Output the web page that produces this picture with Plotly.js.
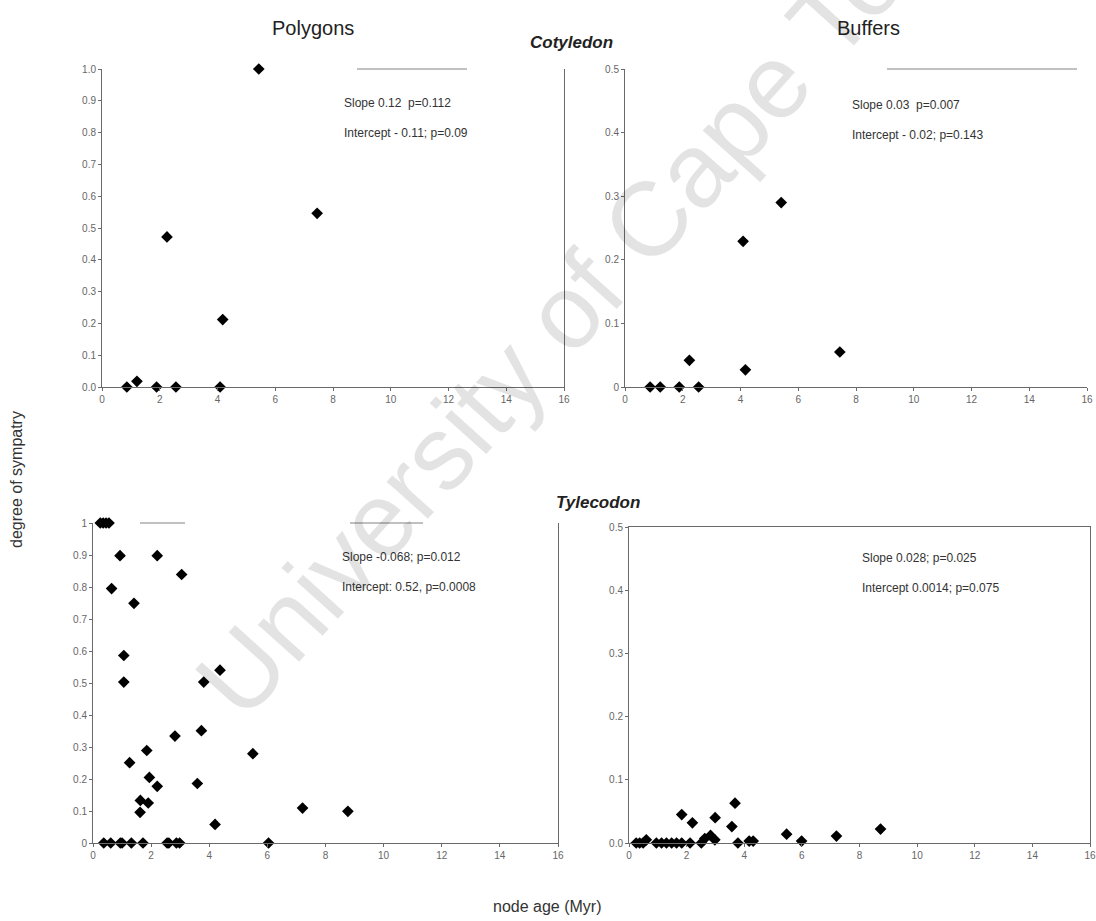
<!DOCTYPE html>
<html>
<head>
<meta charset="utf-8">
<script src="https://cdn.plot.ly/plotly-3.0.1.min.js"></script>
<style>
  html, body { margin: 0; padding: 0; background: #fff; }
  #chart { width: 1096px; height: 921px; }
</style>
</head>
<body>
<div id="chart"></div>
<script>
// Node age (Myr) vs. degree of sympatry
// Cotyledon — polygons
const cotPolyAge = [0.86, 1.21, 1.89, 2.56, 4.09, 2.25, 4.18, 5.43, 7.45];
const cotPolySym = [0, 0.018, 0, 0, 0, 0.472, 0.212, 1.0, 0.546];

// Cotyledon — buffers
const cotBufAge = [0.87, 1.22, 1.88, 2.55, 2.23, 4.09, 4.17, 5.41, 7.44];
const cotBufSym = [0, 0, 0, 0, 0.042, 0.229, 0.027, 0.290, 0.055];

// Tylecodon — polygons
const tylPolyAge = [0.25, 0.35, 0.45, 0.55, 0.93, 2.21, 3.05, 0.64, 1.41, 1.06, 1.06, 3.81, 4.37,
  3.73, 2.82, 1.85, 1.26, 5.50, 1.94, 2.21, 3.59, 1.63, 1.90, 1.62, 7.21, 8.77, 4.20,
  0.37, 0.61, 0.94, 1.00, 1.32, 1.72, 2.55, 2.61, 2.87, 2.98, 6.04];
const tylPolySym = [1, 1, 1, 1, 0.898, 0.898, 0.839, 0.795, 0.749, 0.586, 0.503, 0.503, 0.540,
  0.351, 0.334, 0.289, 0.251, 0.279, 0.205, 0.177, 0.186, 0.133, 0.125, 0.096, 0.109, 0.099, 0.058,
  0, 0, 0, 0, 0, 0, 0, 0, 0, 0, 0];

// Tylecodon — buffers
const tylBufAge = [1.83, 2.20, 2.99, 3.57, 3.68, 5.47, 5.99, 7.20, 8.73, 3.78, 4.17, 4.31,
  2.63, 2.83, 2.98, 2.51, 0.25, 0.37, 0.49, 0.60, 0.95, 1.13, 1.30, 1.48, 1.65, 1.83, 2.12];
const tylBufSym = [0.045, 0.032, 0.040, 0.026, 0.063, 0.014, 0.003, 0.011, 0.022, 0, 0.003, 0.003,
  0.007, 0.012, 0.005, 0, 0, 0, 0, 0.005, 0, 0, 0, 0, 0, 0, 0];

// Regression summaries
const statsText = [
  ["Slope 0.12  p=0.112", "Intercept - 0.11; p=0.09"],
  ["Slope 0.03  p=0.007", "Intercept - 0.02; p=0.143"],
  ["Slope -0.068; p=0.012", "Intercept: 0.52, p=0.0008"],
  ["Slope 0.028; p=0.025", "Intercept 0.0014; p=0.075"]
];

const xTicks = [0, 2, 4, 6, 8, 10, 12, 14, 16];

const FONT = "Liberation Sans, Arial, sans-serif";
const AXIS_COL = "#6a6a6a";

const marker = { symbol: "diamond", size: 9, color: "#000" };

function series(x, y, xa, ya) {
  return { type: "scatter", mode: "markers", x: x, y: y, xaxis: xa, yaxis: ya,
           marker: marker, cliponaxis: false, showlegend: false, hoverinfo: "x+y" };
}

const data = [
  series(cotPolyAge, cotPolySym, "x", "y"),
  series(cotBufAge, cotBufSym, "x2", "y2"),
  series(tylPolyAge, tylPolySym, "x3", "y3"),
  series(tylBufAge, tylBufSym, "x4", "y4")
];

const tickFont = { family: FONT, size: 10, color: "#666" };

function xAxis(dom, anchor, mirror) {
  return { domain: dom, anchor: anchor, range: [0, 16], tickvals: xTicks,
           showgrid: false, zeroline: false, showline: true, linecolor: AXIS_COL, linewidth: 1,
           mirror: mirror, ticks: "outside", ticklen: 3, tickcolor: AXIS_COL,
           tickfont: tickFont, fixedrange: true };
}
function yAxis(dom, anchor, range, dtick, fmt, mirror) {
  return { domain: dom, anchor: anchor, range: range, dtick: dtick, tickformat: fmt,
           showgrid: false, zeroline: false, showline: true, linecolor: AXIS_COL, linewidth: 1,
           mirror: mirror, ticks: "outside", ticklen: 3, tickcolor: AXIS_COL,
           tickfont: tickFont, fixedrange: true };
}

const W = 1096, H = 921;
const px = v => v / W;
const py = v => 1 - v / H;

function statAnn(lines, x0, y0) {
  return lines.map((t, i) => ({
    text: t, xref: "paper", yref: "paper", x: px(x0), y: py(y0 + i * 30),
    xanchor: "left", yanchor: "middle", showarrow: false,
    font: { family: FONT, size: 12, color: "#333" }
  }));
}

const annotations = [
  { text: "Polygons", xref: "paper", yref: "paper", x: px(313), y: py(28), showarrow: false,
    xanchor: "center", yanchor: "middle", font: { family: FONT, size: 20, color: "#222" } },
  { text: "Buffers", xref: "paper", yref: "paper", x: px(868), y: py(28), showarrow: false,
    xanchor: "center", yanchor: "middle", font: { family: FONT, size: 20, color: "#222" } },
  { text: "<b><i>Cotyledon</i></b>", xref: "paper", yref: "paper", x: px(571), y: py(42), showarrow: false,
    xanchor: "center", yanchor: "middle", font: { family: FONT, size: 17, color: "#222" } },
  { text: "<b><i>Tylecodon</i></b>", xref: "paper", yref: "paper", x: px(598), y: py(502), showarrow: false,
    xanchor: "center", yanchor: "middle", font: { family: FONT, size: 17, color: "#222" } },
  { text: "degree of sympatry", xref: "paper", yref: "paper", x: px(16), y: py(480), showarrow: false,
    textangle: -90, xanchor: "center", yanchor: "middle", font: { family: FONT, size: 16, color: "#333" } },
  { text: "node age (Myr)", xref: "paper", yref: "paper", x: px(547), y: py(906), showarrow: false,
    xanchor: "center", yanchor: "middle", font: { family: FONT, size: 16, color: "#333" } },
  ...statAnn(statsText[0], 342, 103),
  ...statAnn(statsText[1], 850, 105),
  ...statAnn(statsText[2], 340, 557),
  ...statAnn(statsText[3], 860, 558),
  { text: "University of Cape Town", xref: "paper", yref: "paper", x: px(594), y: py(279), showarrow: false,
    textangle: -48, xanchor: "center", yanchor: "middle",
    font: { family: FONT, size: 105, color: "rgba(0,0,0,0.11)" } }
];

// faint partial frame strokes along the top of some panels
const faint = "rgba(150,150,150,0.6)";
const shapes = [
  [357, 467, 69], [887, 1077, 69], [140, 185, 523], [350, 423, 523]
].map(s => ({ type: "line", xref: "paper", yref: "paper", x0: px(s[0]), x1: px(s[1]),
              y0: py(s[2]), y1: py(s[2]), line: { color: faint, width: 2 } }));

const layout = {
  width: W, height: H,
  margin: { l: 0, r: 0, t: 0, b: 0 },
  paper_bgcolor: "#fff", plot_bgcolor: "#fff",
  showlegend: false,
  xaxis:  xAxis([px(102), px(564)], "y", false),
  yaxis:  yAxis([py(387), py(69)], "x", [0, 1], 0.1, ".1f", true),
  xaxis2: xAxis([px(625), px(1087)], "y2", false),
  yaxis2: yAxis([py(387), py(69)], "x2", [0, 0.5], 0.1, "", false),
  xaxis3: xAxis([px(93), px(558)], "y3", false),
  yaxis3: yAxis([py(843), py(523)], "x3", [0, 1], 0.1, "", true),
  xaxis4: xAxis([px(629), px(1090)], "y4", true),
  yaxis4: yAxis([py(843), py(527)], "x4", [0, 0.5], 0.1, ".1f", true),
  annotations: annotations,
  shapes: shapes
};

Plotly.newPlot("chart", data, layout, { displayModeBar: false, staticPlot: true });
</script>
</body>
</html>
